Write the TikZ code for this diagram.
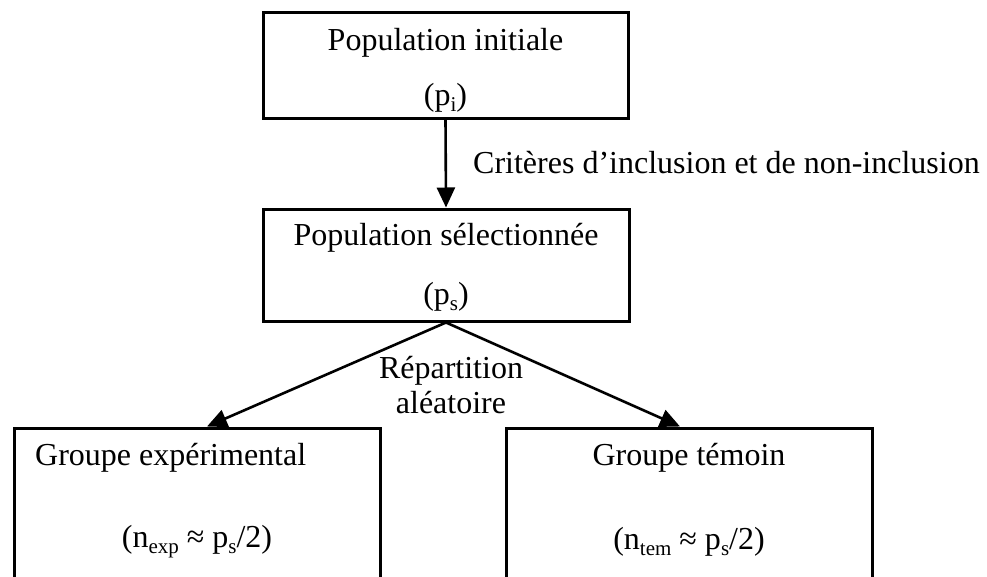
\documentclass[tikz,border=0pt]{standalone}
\usepackage{fontspec}
\setmainfont{Liberation Serif}
\usetikzlibrary{arrows.meta}
\newcommand{\sbs}[1]{\raisebox{-0.18em}{\fontsize{21}{21}\selectfont #1}}
\begin{document}
\begin{tikzpicture}[x=1pt,y=-1pt,
  box/.style={draw, line width=3pt, rectangle, inner sep=0pt},
  txt/.style={inner sep=0pt, font=\fontsize{32}{38}\selectfont},
  arr/.style={line width=2.6pt, -{Triangle[length=20pt,width=18pt]}}]
\useasboundingbox (0,0) rectangle (987,576);
\clip (0,0) rectangle (987,576);
% boxes
\node[box, minimum width=365pt, minimum height=106pt] (b1) at (445.5,65) {};
\node[box, minimum width=366pt, minimum height=112pt] (b2) at (446,265) {};
\node[box, minimum width=366pt, minimum height=200pt] (b3) at (197,528) {};
\node[box, minimum width=366pt, minimum height=200pt] (b4) at (689,528) {};
% texts
\node[txt] (t1a) at (445.5,43) {Population initiale};
\node[txt] (t1b) at (445.5,98) {(p\sbs{i})};
\node[txt] (t2a) at (446,238) {Population sélectionnée};
\node[txt] (t2b) at (446,297) {(p\sbs{s})};
\node[txt, anchor=west] (t3a) at (35,458) {Groupe expérimental};
\node[txt] (t3b) at (197,542) {(n\sbs{exp} ≈ p\sbs{s}/2)};
\node[txt] (t4a) at (689,458) {Groupe témoin};
\node[txt] (t4b) at (689,542) {(n\sbs{tem} ≈ p\sbs{s}/2)};
% connectors
\draw[arr] (b1.south) -- (b2.north);
\draw[arr] (b2.south) -- ([xshift=10pt]b3.north);
\draw[arr] (b2.south) -- ([xshift=-9pt]b4.north);
% labels
\node[txt, anchor=west] (l1) at (473,163) {Critères d’inclusion et de non-inclusion};
\node[txt, align=center] (l2) at (451,385) {Répartition\\[-3pt]aléatoire};
\end{tikzpicture}
\end{document}
